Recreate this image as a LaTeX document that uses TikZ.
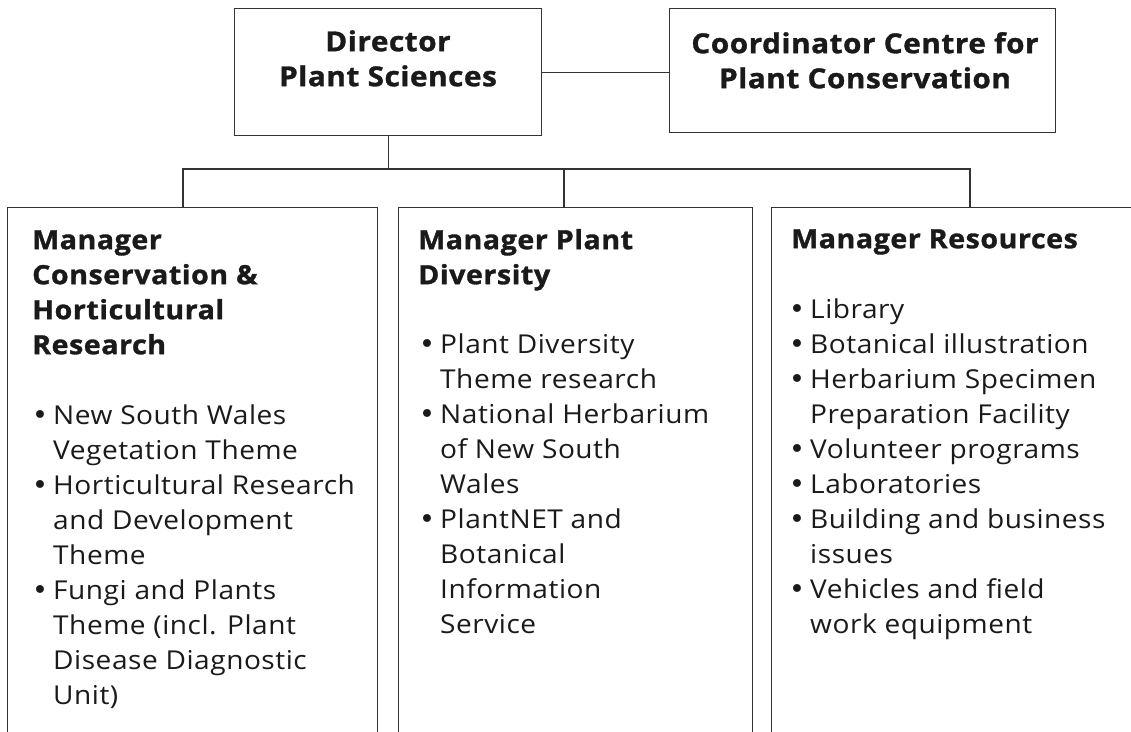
\documentclass[tikz,border=0pt]{standalone}
\usepackage{fontspec}
\setmainfont{Open Sans}[FakeStretch=1.08,LetterSpace=2,BoldFeatures={FakeBold=1.2}]
\newfontfamily\bulfont{DejaVu Sans}
\definecolor{ink}{HTML}{1A1A1A}
\definecolor{frame}{HTML}{333333}

% type sizes: 1pt = one unit of the layout grid
\newcommand\titlefont{\bfseries\fontsize{27.5}{35}\selectfont}
\newcommand\headfont{\bfseries\fontsize{26.5}{35}\selectfont}
\newcommand\bodyfont{\fontsize{26}{35}\selectfont}
\newcommand\itembul{\makebox[21pt][l]{{\bulfont\fontsize{27}{35}\selectfont •}}}
\newcommand\itemcont{\hspace*{21pt}}

\tikzset{
  box/.style={draw=frame, line width=1.3pt, rectangle, inner sep=0pt, anchor=north west},
  link/.style={draw=frame, line width=1.3pt},
  title/.style={inner sep=0pt, anchor=north, align=center, text=ink, font=\titlefont},
  head/.style={inner sep=0pt, anchor=north west, align=left, text=ink, font=\headfont},
  body/.style={inner sep=0pt, anchor=north west, align=left, text=ink, font=\bodyfont},
}

\begin{document}
\begin{tikzpicture}[x=1pt,y=-1pt]
\useasboundingbox (0,0) rectangle (1131,731);
\clip (0,0) rectangle (1131,731);

% upper row
\node[box, minimum width=307pt, minimum height=127pt] (dirbox) at (234,8) {};
\node[box, minimum width=386pt, minimum height=124pt] (coordbox) at (669,8) {};
\node[title] (dirtext) at (388,26.5) {\strut Director\\Plant Sciences};
\node[title] (coordtext) at (865,28.5) {\strut Coordinator Centre for\\Plant Conservation};

% manager boxes, open towards the bottom edge
\node[box, minimum width=370pt, minimum height=560pt] (m1) at (7,207) {};
\node[box, minimum width=354pt, minimum height=560pt] (m2) at (398,207) {};
\node[box, minimum width=400pt, minimum height=560pt] (m3) at (771,207) {};

% connectors
\coordinate (s1) at (183,207);
\coordinate (s2) at (564,207);
\coordinate (s3) at (970,207);
\coordinate (bus) at (389,169);
\draw[link] (dirbox.east) -- (dirbox.east -| coordbox.west);
\draw[link] (dirbox.south) -- (dirbox.south |- bus);
\draw[link] (s1) -- (s1 |- bus) -- (s3 |- bus) -- (s3);
\draw[link] (s2) -- (s2 |- bus);

% Conservation & Horticultural Research
\node[head] (h1) at (32,224.5) {\strut Manager\\Conservation \&\\Horticultural\\Research};
\node[body] (l1) at (32,399.5) {\strut\itembul New South Wales\\
  \itemcont Vegetation Theme\\
  \itembul Horticultural Research\\
  \itemcont and Development\\
  \itemcont Theme\\
  \itembul Fungi and Plants\\
  \itemcont Theme (incl. Plant\\
  \itemcont Disease Diagnostic\\
  \itemcont Unit)};

% Plant Diversity
\node[head] (h2) at (418,224.5) {\strut Manager Plant\\Diversity};
\node[body] (l2) at (419,328.5) {\strut\itembul Plant Diversity\\
  \itemcont Theme research\\
  \itembul National Herbarium\\
  \itemcont of New South\\
  \itemcont Wales\\
  \itembul PlantNET and\\
  \itemcont Botanical\\
  \itemcont Information\\
  \itemcont Service};

% Resources
\node[head] (h3) at (791,223.5) {\strut Manager Resources};
\node[body] (l3) at (789,293.5) {\strut\itembul Library\\
  \itembul Botanical illustration\\
  \itembul Herbarium Specimen\\
  \itemcont Preparation Facility\\
  \itembul Volunteer programs\\
  \itembul Laboratories\\
  \itembul Building and business\\
  \itemcont issues\\
  \itembul Vehicles and field\\
  \itemcont work equipment};
\end{tikzpicture}
\end{document}
